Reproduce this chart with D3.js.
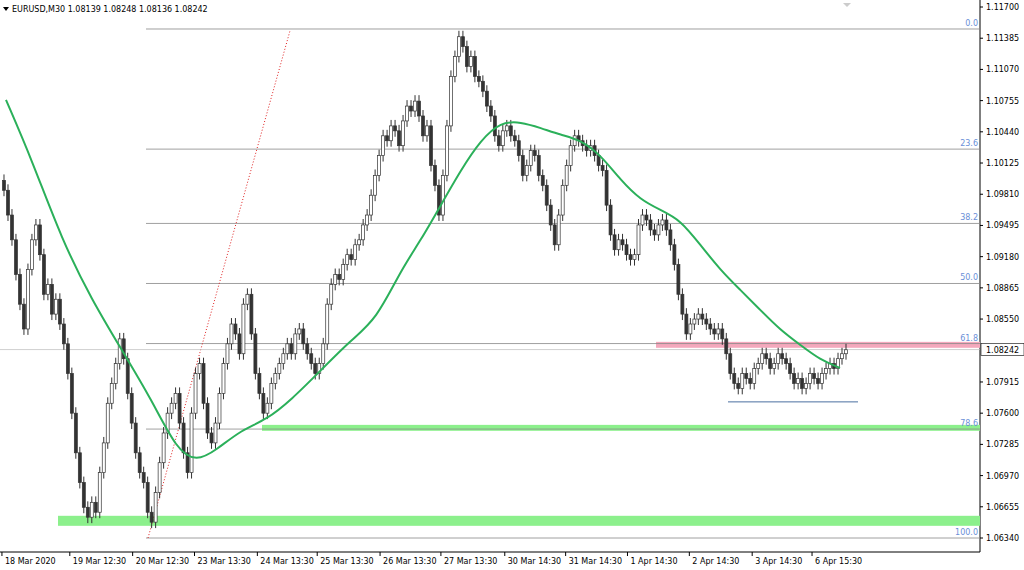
<!DOCTYPE html>
<html><head><meta charset="utf-8">
<script src="https://cdnjs.cloudflare.com/ajax/libs/d3/7.8.5/d3.min.js"></script>
<style>body{margin:0;background:#fff}text{font-family:"DejaVu Sans",sans-serif;font-size:8px}</style>
</head><body><svg id="chart" width="1024" height="570"></svg>
<script>
// closes, one every ~4px of the chart (M30 resampled)
let closes = [1.0985,1.0960,1.0935,1.0900,1.0870,1.0845,1.0905,
1.0935,1.0950,1.0920,1.0880,1.0890,1.0860,1.0875,
1.0850,1.0830,1.0800,1.0760,1.0720,1.0690,1.0665,1.0655,
1.0670,1.0660,1.0700,1.0730,1.0770,1.0790,1.0810,1.0835,
1.0815,1.0780,1.0750,1.0720,1.0700,1.0690,1.0660,1.0650,
1.0680,1.0710,1.0740,1.0760,1.0770,1.0780,1.0750,1.0720,1.0700,
1.0760,1.0800,1.0810,1.0770,1.0740,1.0730,1.0750,1.0780,
1.0810,1.0830,1.0850,1.0840,1.0820,1.0870,1.0880,1.0840,
1.0800,1.0780,1.0760,1.0770,1.0790,1.0800,1.0810,1.0820,
1.0830,1.0820,1.0840,1.0845,1.0830,1.0820,1.0810,1.0800,
1.0810,1.0830,1.0870,1.0890,1.0900,1.0895,1.0910,1.0920,
1.0915,1.0930,1.0935,1.0950,1.0960,1.0980,1.1000,1.1020,
1.1040,1.1035,1.1050,1.1045,1.1030,1.1055,1.1070,1.1065,
1.1075,1.1060,1.1040,1.1050,1.1010,1.0990,1.0960,1.1000,
1.1050,1.1100,1.1120,1.1140,1.1130,1.1110,1.1120,1.1100,
1.1095,1.1085,1.1070,1.1060,1.1040,1.1030,1.1045,1.1050,
1.1040,1.1035,1.1020,1.1000,1.1010,1.1025,1.1020,1.1000,
1.0990,1.0970,1.0950,1.0930,1.0960,1.0990,1.1010,1.1030,
1.1040,1.1035,1.1030,1.1025,1.1030,1.1020,1.1010,1.1005,
1.0970,1.0940,1.0925,1.0935,1.0930,1.0920,1.0915,1.0920,
1.0950,1.0960,1.0955,1.0945,1.0940,1.0950,1.0955,1.0945,
1.0930,1.0910,1.0880,1.0860,1.0840,1.0850,1.0855,1.0860,
1.0855,1.0850,1.0845,1.0840,1.0845,1.0835,1.0820,1.0800,
1.0790,1.0785,1.0800,1.0795,1.0790,1.0805,1.0810,1.0820,
1.0815,1.0805,1.0810,1.0820,1.0815,1.0810,1.0800,1.0790,
1.0795,1.0785,1.0790,1.0800,1.0795,1.0790,1.0800,1.0805,
1.0810,1.0805,1.0815,1.0820,1.0824];

// moving average: [candle index, value]
let maIdx = [1,7.5,15,22.5,30,37.5,43.75,48.75,53.75,60,66.25,72.5,80,87.5,93.75,100,105,110,115,120,125,130,135,140,145,150,155,160,165,170,175,180,185,190,195,200,205,210];
let maVal = [1.10762,1.10156,1.09349,1.08744,1.08239,1.07735,1.07230,1.07109,1.07230,1.07432,1.07533,1.07735,1.08037,1.08340,1.08542,1.09046,1.09349,1.09702,1.10055,1.10358,1.10540,1.10540,1.10479,1.10409,1.10358,1.10207,1.09954,1.09753,1.09652,1.09551,1.09299,1.09046,1.08845,1.08643,1.08441,1.08290,1.08138,1.08057];

let priceTicks = [1.11700,1.11385,1.11070,1.10755,1.10440,1.10125,1.09810,1.09495,1.09180,1.08865,1.08550,1.07915,1.07600,1.07285,1.06970,1.06655,1.06340];
let timeLabels = ["18 Mar 2020","19 Mar 12:30","20 Mar 12:30","23 Mar 13:30","24 Mar 13:30","25 Mar 13:30","26 Mar 13:30","27 Mar 13:30","30 Mar 14:30","31 Mar 14:30","1 Apr 14:30","2 Apr 14:30","3 Apr 14:30","6 Apr 15:30"];
let timeIdx = [5,21.5,37.25,52.75,68.5,83.5,99.25,114.5,130.5,145.75,161.25,176.75,192.5,207.5];

let fibLevels = ["0.0","23.6","38.2","50.0","61.8","78.6","100.0"];
let fibHigh = 1.11478, fibLow = 1.06340;
let lastPrice = 1.08242;
let wick = 0.0006;

const svg = d3.select("#chart");
const x = d3.scaleLinear().domain([0, closes.length]).range([2, 848]);
const y = d3.scaleLinear().domain([1.0634, 1.1170]).range([538, 7]);
const R = 980, B = 552;

// frame
svg.append("line").attr("x1",R).attr("x2",R).attr("y1",0).attr("y2",B).attr("stroke","#000");
svg.append("line").attr("x1",0).attr("x2",R).attr("y1",B).attr("y2",B).attr("stroke","#000");
svg.append("path").attr("d","M843,3 L851,3 L847,7Z").attr("fill","#ccc");

// zones
svg.append("rect").attr("x",58).attr("width",R-58).attr("y",y(1.06564)).attr("height",y(1.06463)-y(1.06564)).attr("fill","#8cf08c");
svg.append("rect").attr("x",262).attr("width",R-262).attr("y",y(1.07482)).attr("height",y(1.07422)-y(1.07482)).attr("fill","#8cf08c");
svg.append("rect").attr("x",656).attr("width",R-656).attr("y",y(1.0832)).attr("height",y(1.0826)-y(1.0832)).attr("fill","#f4a8bc");

// fibonacci
fibLevels.forEach(l => {
  let p = fibHigh - (fibHigh - fibLow) * (+l) / 100;
  svg.append("line").attr("x1",146).attr("x2",R).attr("y1",y(p)).attr("y2",y(p)).attr("stroke","#888").attr("stroke-width",0.8);
  svg.append("text").attr("x",R-2).attr("y",y(p)-3).attr("text-anchor","end").attr("fill","#6a8fd8").text(l);
});
svg.append("line").attr("x1",148).attr("x2",290).attr("y1",y(fibLow)).attr("y2",y(1.1146)).attr("stroke","#e02020").attr("stroke-dasharray","1,2");
svg.append("line").attr("x1",728).attr("x2",858).attr("y1",y(1.07714)).attr("y2",y(1.07714)).attr("stroke","#4a6fa0");

// last price line
svg.append("line").attr("x1",0).attr("x2",R).attr("y1",y(lastPrice)).attr("y2",y(lastPrice)).attr("stroke","#bbb").attr("stroke-width",0.7);

// candles
const g = svg.append("g");
closes.forEach((c, i) => {
  let o = i ? closes[i-1] : c + 0.0010;
  let cx = x(i + 0.5);
  g.append("line").attr("x1",cx).attr("x2",cx).attr("y1",y(Math.max(o,c)+wick)).attr("y2",y(Math.min(o,c)-wick)).attr("stroke","#333");
  g.append("rect").attr("x",cx-1.5).attr("width",3).attr("y",y(Math.max(o,c))).attr("height",Math.max(1,Math.abs(y(o)-y(c))))
    .attr("fill", c >= o ? "#fff" : "#333").attr("stroke","#333").attr("stroke-width",0.7);
});

// MA
svg.append("path").datum(maIdx.map((d,i)=>[d,maVal[i]]))
  .attr("d", d3.line().x(d=>x(d[0])).y(d=>y(d[1])).curve(d3.curveBasis))
  .attr("fill","none").attr("stroke","#2bb05a").attr("stroke-width",2);

// price axis
priceTicks.forEach(p => {
  svg.append("line").attr("x1",R).attr("x2",R+3).attr("y1",y(p)).attr("y2",y(p)).attr("stroke","#000");
  svg.append("text").attr("x",R+6).attr("y",y(p)+3).text(p.toFixed(5));
});
svg.append("rect").attr("x",R+1).attr("y",y(lastPrice)-6).attr("width",43).attr("height",12).attr("fill","#fff").attr("stroke","#000").attr("stroke-width",0.6);
svg.append("text").attr("x",R+6).attr("y",y(lastPrice)+3).text(lastPrice.toFixed(5));

// time axis
timeLabels.forEach((t, i) => {
  let tx = x(timeIdx[i]) - (i ? 18 : 20);
  svg.append("line").attr("x1",tx).attr("x2",tx).attr("y1",B).attr("y2",B+4).attr("stroke","#000");
  svg.append("text").attr("x",tx+3).attr("y",B+12).text(t);
});

// header
svg.append("path").attr("d","M3,7 L9,7 L6,11Z").attr("fill","#000");
svg.append("text").attr("x",12).attr("y",12).text("EURUSD,M30  1.08139 1.08248 1.08136 1.08242");
</script></body></html>
